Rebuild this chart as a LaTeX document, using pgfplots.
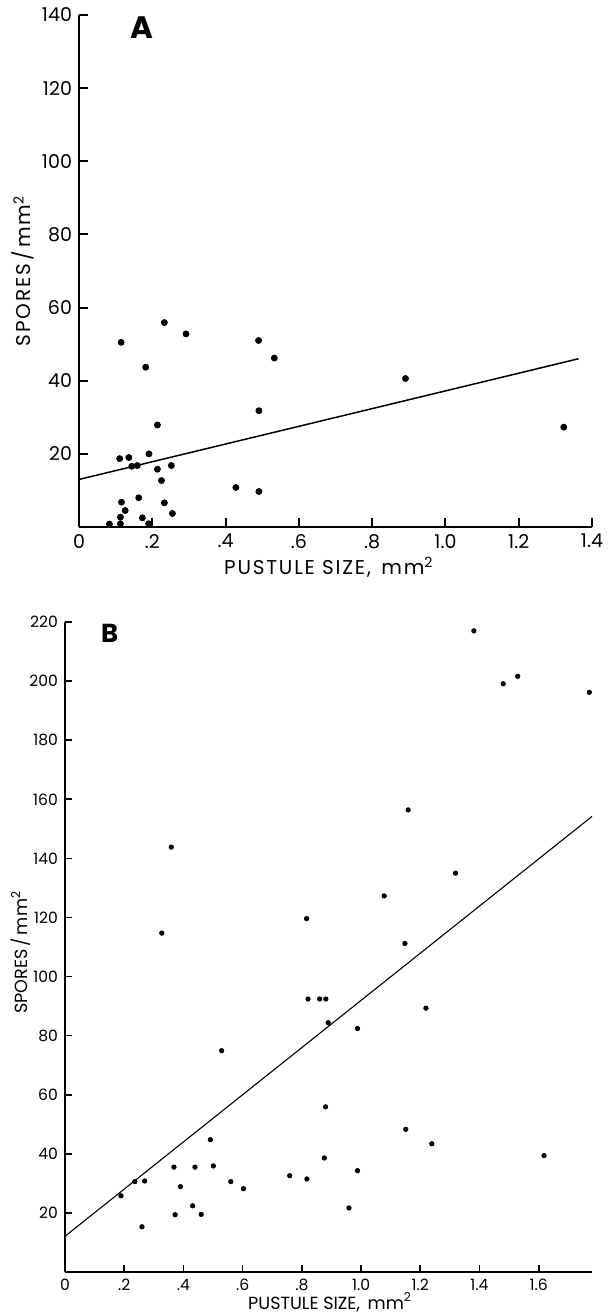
\documentclass[border=0pt]{standalone}
\usepackage{fontspec}
\setmainfont{Poppins}
\usepackage{pgfplots}
\pgfplotsset{compat=1.18}

% sample data
\pgfplotstableread{
x      y
0.115  50.5
0.233  55.9
0.292  52.8
0.490  51.0
0.533  46.2
0.182  43.7
0.891  40.6
0.491  31.8
0.214  27.9
1.323  27.3
0.111  18.7
0.136  19.0
0.191  20.0
0.144  16.6
0.159  16.8
0.214  15.8
0.252  16.8
0.225  12.7
0.428  10.8
0.491   9.7
0.163   8.0
0.116   6.8
0.233   6.6
0.126   4.5
0.255   3.7
0.113   2.7
0.173   2.5
0.083   0.8
0.113   0.9
0.190   0.9
}\dataA

\pgfplotstableread{
x      y
1.381  217.0
1.480  199.1
1.529  201.6
1.771  196.2
1.159  156.4
0.359  143.8
0.327  114.7
0.816  119.6
1.078  127.3
1.319  135.0
1.148  111.2
0.821   92.4
0.860   92.4
0.881   92.4
0.889   84.4
0.988   82.4
1.219   89.3
0.529   74.9
0.880   55.9
1.151   48.3
1.239   43.4
1.618   39.4
0.491   44.8
0.876   38.6
0.988   34.3
0.368   35.5
0.439   35.5
0.501   35.9
0.759   32.6
0.817   31.5
0.236   30.6
0.269   30.8
0.560   30.6
0.603   28.2
0.390   28.9
0.189   25.8
0.431   22.4
0.959   21.7
0.372   19.4
0.460   19.5
0.260   15.3
}\dataB

\begin{document}
\begin{tikzpicture}[x=1pt,y=1pt]
\pgfplotsset{
  panel/.style={
    scale only axis,
    anchor=south west,
    axis x line*=bottom,
    axis y line*=left,
    tick align=inside,
    clip=false,
    ylabel={SPORES\,/\,mm\textsuperscript{2}},
    xlabel={PUSTULE SIZE,\, mm\textsuperscript{2}},
  }
}

% ---- panel A
\begin{axis}[panel,
  at={(39.5pt,-263.5pt)},
  width=256.5pt, height=256pt,
  xmin=0, xmax=1.4, ymin=0, ymax=140,
  xtick={0,0.2,0.4,0.6,0.8,1.0,1.2,1.4},
  xticklabels={0,.2,.4,.6,.8,1.0,1.2,1.4},
  ytick={20,40,60,80,100,120,140},
  yticklabels={20,40,60,80,100,120,140},
  major tick length=4.5pt,
  axis line style={line width=1.3pt},
  tick style={line width=1pt, black},
  tick label style={font=\fontsize{9.5}{10}\selectfont},
  label style={font=\fontsize{10}{12}\selectfont\addfontfeature{LetterSpace=9}},
  xlabel style={at={(axis description cs:0.487,-0.078)}, anchor=center},
  ylabel style={at={(axis description cs:-0.109,0.5)}, anchor=center},
]
\addplot[only marks, mark=*, mark size=1.5pt, black] table[x=x,y=y] {\dataA};
\addplot[black, line width=0.75pt] coordinates {(0,13.0) (1.363,46.0)};
\node[font=\fontsize{15.5}{16}\selectfont\bfseries] at (axis description cs:0.123,0.975) {A};
\end{axis}

% ---- panel B
\begin{axis}[panel,
  at={(32.5pt,-636pt)},
  width=263.5pt, height=325pt,
  xmin=0, xmax=1.78, ymin=0, ymax=220,
  xtick={0,0.2,0.4,0.6,0.8,1.0,1.2,1.4,1.6},
  xticklabels={0,.2,.4,.6,.8,1.0,1.2,1.4,1.6},
  ytick={20,40,60,80,100,120,140,160,180,200,220},
  yticklabels={20,40,60,80,100,120,140,160,180,200,220},
  major tick length=3.5pt,
  axis line style={line width=1.1pt},
  tick style={line width=0.8pt, black},
  tick label style={font=\fontsize{7.8}{9}\selectfont},
  label style={font=\fontsize{8.8}{10}\selectfont},
  xlabel style={at={(axis description cs:0.503,-0.046)}, anchor=center},
  ylabel style={at={(axis description cs:-0.0835,0.492)}, anchor=center},
]
\addplot[only marks, mark=*, mark size=1.1pt, black] table[x=x,y=y] {\dataB};
\addplot[black, line width=0.55pt] coordinates {(0,12.1) (1.78,154.2)};
\node[font=\fontsize{13}{14}\selectfont\bfseries] at (axis description cs:0.085,0.983) {B};
\end{axis}

\pgfresetboundingbox
\path[use as bounding box] (0,0) rectangle (304.5,-657.5);
\end{tikzpicture}
\end{document}
